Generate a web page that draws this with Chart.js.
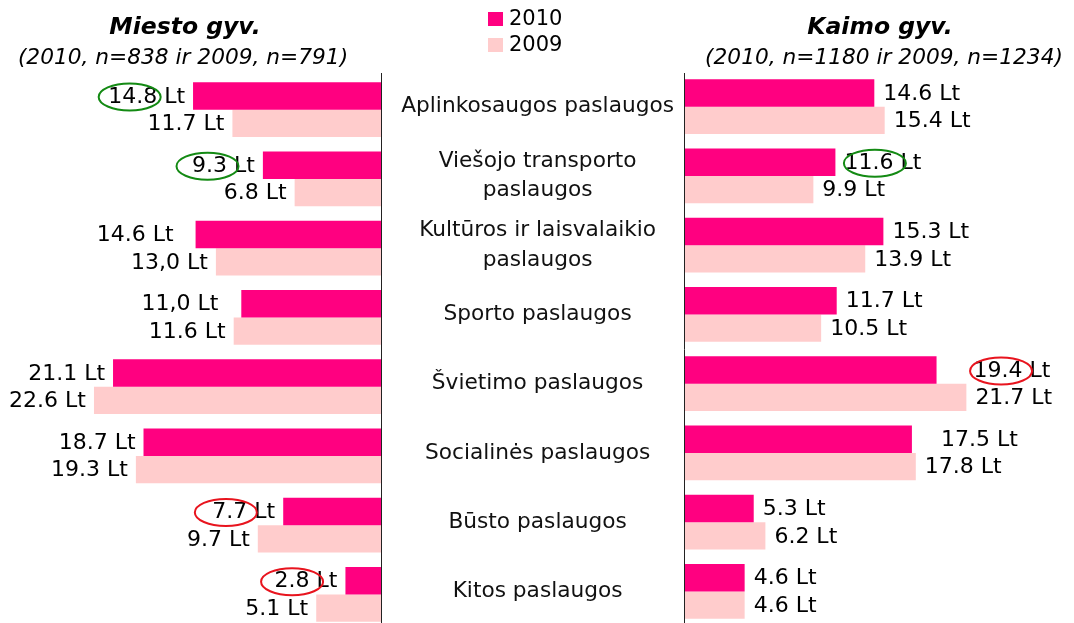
<!DOCTYPE html>
<html><head><meta charset="utf-8">
<script src="https://cdn.jsdelivr.net/npm/chart.js@4/dist/chart.umd.min.js"></script>
<style>
html,body{margin:0;padding:0;background:#fff;overflow:hidden;width:1074px;height:623px;}
#wrap{position:relative;width:1074px;height:623px;overflow:hidden;font-family:"DejaVu Sans",Verdana,sans-serif;color:#000;}
.box{position:absolute;top:0;}
.t{position:absolute;text-align:center;white-space:nowrap;width:420px;}
.lg{position:absolute;left:488px;width:15px;height:14px;}
.lt{position:absolute;left:509px;font-size:21px;line-height:24px;}
</style></head><body>
<div id="wrap">
  <div class="box" style="left:0;width:382px;height:629px;"><canvas id="cl"></canvas></div>
  <div class="box" style="left:381px;width:693px;height:626px;"><canvas id="cr"></canvas></div>
  <div class="t" style="left:-25px;top:12px;font:italic bold 23.5px 'DejaVu Sans';">Miesto gyv.</div>
  <div class="t" style="left:-27px;top:44px;font:italic 21.7px 'DejaVu Sans';">(2010, n=838 ir 2009, n=791)</div>
  <div class="t" style="left:670px;top:12px;font:italic bold 23.5px 'DejaVu Sans';">Kaimo gyv.</div>
  <div class="t" style="left:674px;top:44px;font:italic 21.7px 'DejaVu Sans';">(2010, n=1180 ir 2009, n=1234)</div>
  <div class="lg" style="top:12px;background:#FF0080;"></div>
  <div class="lt" style="top:6px;">2010</div>
  <div class="lg" style="top:38px;background:#FFCCCC;"></div>
  <div class="lt" style="top:32px;">2009</div>
</div>
<script>
const categories = [
  "Aplinkosaugos paslaugos",
  ["Viešojo transporto", "paslaugos"],
  ["Kultūros ir laisvalaikio", "paslaugos"],
  "Sporto paslaugos",
  "Švietimo paslaugos",
  "Socialinės paslaugos",
  "Būsto paslaugos",
  "Kitos paslaugos"
];
const seriesNames = ["2010", "2009"];
const miesto2010 = [14.8, 9.3, 14.6, 11.0, 21.1, 18.7, 7.7, 2.8];
const miesto2009 = [11.7, 6.8, 13.0, 11.6, 22.6, 19.3, 9.7, 5.1];
const kaimo2010 = [14.6, 11.6, 15.3, 11.7, 19.4, 17.5, 5.3, 4.6];
const kaimo2009 = [15.4, 9.9, 13.9, 10.5, 21.7, 17.8, 6.2, 4.6];
// indices whose label is written with a decimal comma in the original
const commaLeft2010 = [3];
const commaLeft2009 = [2];

const COL2010 = '#FF0080', COL2009 = '#FFCCCC';
const FONT = '"DejaVu Sans", Verdana, sans-serif';
const GREEN = '#138a13', RED = '#e8141e';

function fmt(v, i, commaIdx) {
  const s = v.toFixed(1);
  return commaIdx.includes(i) ? s.replace('.', ',') : s;
}

function makeLabels(cfg) {
  return {
    id: 'valueLabels_' + cfg.side,
    afterDatasetsDraw(chart) {
      const ctx = chart.ctx;
      ctx.save();
      ctx.font = '22px ' + FONT;
      ctx.fillStyle = '#000';
      ctx.textBaseline = 'middle';
      chart.data.datasets.forEach((ds, di) => {
        const meta = chart.getDatasetMeta(di);
        meta.data.forEach((bar, i) => {
          const num = fmt(ds.data[i], i, cfg.commas[di]);
          const txt = num + ' Lt';
          const nudge = cfg.nudge[di][i] || 0;
          const w = ctx.measureText(txt).width;
          const nw = ctx.measureText(num).width;
          let start;
          if (cfg.side === 'left') {
            ctx.textAlign = 'right';
            const xe = bar.x - 8 - nudge;
            ctx.fillText(txt, xe, bar.y + 1);
            start = xe - w;
          } else {
            ctx.textAlign = 'left';
            const xs = bar.x + 9 + nudge;
            ctx.fillText(txt, xs, bar.y + 1);
            start = xs;
          }
          const mark = cfg.marks.find(m => m.ds === di && m.i === i);
          if (mark) {
            ctx.save();
            ctx.strokeStyle = mark.color;
            ctx.lineWidth = 2;
            ctx.beginPath();
            ctx.ellipse(start + nw / 2 + mark.dx, bar.y + 1, 31, 13.5, 0, 0, Math.PI * 2);
            ctx.stroke();
            ctx.restore();
          }
        });
      });
      ctx.restore();
    }
  };
}

function makeAxisLine(side) {
  return {
    id: 'axisLine_' + side,
    afterDraw(chart) {
      const ctx = chart.ctx, a = chart.chartArea;
      const x = side === 'left' ? a.right + 0.5 : a.left - 0.5;
      ctx.save();
      ctx.strokeStyle = '#222';
      ctx.lineWidth = 1;
      ctx.beginPath();
      ctx.moveTo(x, 73);
      ctx.lineTo(x, chart.height);
      ctx.stroke();
      ctx.restore();
    }
  };
}

const common = {
  indexAxis: 'y',
  responsive: true,
  maintainAspectRatio: false,
  animation: false,
  events: []
};

function barSets(d10, d09) {
  return [
    { label: seriesNames[0], data: d10, backgroundColor: COL2010, categoryPercentage: 0.79, barPercentage: 1.0, borderWidth: 0 },
    { label: seriesNames[1], data: d09, backgroundColor: COL2009, categoryPercentage: 0.79, barPercentage: 1.0, borderWidth: 0 }
  ];
}

new Chart(document.getElementById('cl'), {
  type: 'bar',
  data: { labels: categories, datasets: barSets(miesto2010, miesto2009) },
  options: Object.assign({}, common, {
    layout: { padding: { top: 75, right: 1, left: 0, bottom: 0 } },
    scales: {
      x: { reverse: true, min: 0, max: 30, display: false },
      y: { display: false }
    },
    plugins: { legend: { display: false }, tooltip: { enabled: false } }
  }),
  plugins: [
    makeLabels({
      side: 'left',
      commas: [commaLeft2010, commaLeft2009],
      nudge: [{ 2: 14, 3: 15 }, {}],
      marks: [
        { ds: 0, i: 0, color: GREEN, dx: -3 },
        { ds: 0, i: 1, color: GREEN, dx: -2 },
        { ds: 0, i: 6, color: RED, dx: -4 },
        { ds: 0, i: 7, color: RED, dx: 0 }
      ]
    }),
    makeAxisLine('left')
  ]
});

new Chart(document.getElementById('cr'), {
  type: 'bar',
  data: { labels: categories, datasets: barSets(kaimo2010, kaimo2009) },
  options: Object.assign({}, common, {
    layout: { padding: { top: 72, right: 0, left: 0, bottom: 0 } },
    scales: {
      x: { min: 0, max: 30, display: false },
      y: {
        position: 'left',
        grid: { display: false, drawTicks: false },
        border: { display: false },
        afterFit: (scale) => {
          scale.width = 304;
          scale.paddingTop = 0;
          scale.paddingBottom = 0;
        },
        ticks: {
          crossAlign: 'center',
          padding: 11,
          color: '#111',
          font: { family: FONT, size: 21.7, lineHeight: 1.36 }
        }
      }
    },
    plugins: { legend: { display: false }, tooltip: { enabled: false } }
  }),
  plugins: [
    makeLabels({
      side: 'right',
      commas: [[], []],
      nudge: [{ 4: 28, 5: 20 }, {}],
      marks: [
        { ds: 0, i: 1, color: GREEN, dx: 6 },
        { ds: 0, i: 4, color: RED, dx: 3 }
      ]
    }),
    makeAxisLine('right')
  ]
});
</script>
</body></html>
